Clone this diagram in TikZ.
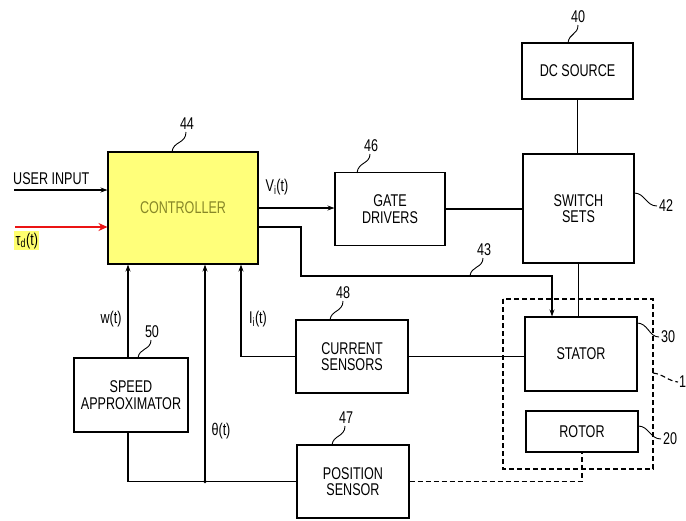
\documentclass[tikz,border=0pt]{standalone}
\usepackage{fontspec}
\setmainfont[FakeStretch=0.74]{Liberation Sans}
\usetikzlibrary{arrows.meta}
\definecolor{ctrlfill}{RGB}{255,255,122}
\definecolor{ctrltext}{RGB}{135,135,40}
\definecolor{hilite}{RGB}{255,255,110}
\definecolor{redarrow}{RGB}{235,20,20}
\begin{document}
\begin{tikzpicture}[x=1pt,y=-1pt,
  every node/.style={font=\fontsize{17}{17}\selectfont, inner sep=0pt},
  blk/.style={draw, line width=1.1pt, align=center, font=\fontsize{17}{16.5}\selectfont},
  conn/.style={line width=1.1pt},
  arr/.style={line width=1.1pt, -{Stealth[length=7pt,width=5pt]}},
  dsh/.style={line width=1.1pt, dash pattern=on 5pt off 3pt},
  lead/.style={line width=0.9pt},
  num/.style={font=\fontsize{17}{17}\selectfont}]
\useasboundingbox (0,0) rectangle (686,520);

% blocks
\node[blk, fill=ctrlfill, minimum width=150pt, minimum height=112pt, text=ctrltext] (ctrl) at (183,208) {CONTROLLER};
\node[blk, minimum width=110pt, minimum height=73pt] (gate) at (390,209) {GATE\\DRIVERS};
\node[blk, minimum width=111pt, minimum height=109pt] (sw) at (578.5,208.5) {SWITCH\\SETS};
\node[blk, minimum width=111pt, minimum height=56pt] (dc) at (577.5,71) {DC SOURCE};
\node[blk, minimum width=112pt, minimum height=73pt] (cur) at (352,356.5) {CURRENT\\SENSORS};
\node[blk, minimum width=112pt, minimum height=74pt] (stator) at (581,354) {STATOR};
\node[blk, minimum width=112pt, minimum height=41pt] (rotor) at (582,431.5) {ROTOR};
\node[blk, minimum width=112pt, minimum height=73pt] (pos) at (353,481.5) {POSITION\\SENSOR};
\node[blk, minimum width=114pt, minimum height=74pt] (speed) at (131,395) {SPEED\\APPROXIMATOR};

% motor dashed enclosure
\draw[dsh] (503,299) rectangle (653,469);

% inputs
\coordinate (ui) at (14,190);
\coordinate (td) at (15,227);
\draw[arr] (ui) -- (ui -| ctrl.west);
\draw[line width=2.8pt, redarrow, -{Stealth[length=9pt,width=8pt]}] (td) -- (td -| ctrl.west);
\node[anchor=west] (uilab) at (13,179) {USER INPUT};
\node[fill=hilite, inner sep=1.5pt, anchor=north west] (tdlab) at (14,231) {τ\textsubscript{d}(t)};

% controller to gate drivers
\draw[arr] (ctrl.east) -- (ctrl.east -| gate.west);
\node (vilab) at (277,187) {V\textsubscript{i}(t)};
\draw[conn] (gate.east) -- (gate.east -| sw.west);
\draw[conn] (dc.south) -- (dc.south |- sw.north);
\draw[conn] (sw.south) -- (sw.south |- stator.north);

% line 43
\coordinate (k1) at (258,227);
\coordinate (k2) at (301,227);
\coordinate (k3) at (301,276);
\coordinate (k4) at (552,276);
\draw[arr] (k1) -- (k2) -- (k3) -- (k4) -- (k4 |- stator.north);

% current sensors
\draw[conn] (cur.east) -- (cur.east -| stator.west);
\coordinate (xI) at (241,356.5);
\draw[arr] (cur.west) -- (xI) -- (xI |- ctrl.south);
\node (iilab) at (258,319) {I\textsubscript{i}(t)};

% speed approximator
\coordinate (xw) at (128,358);
\draw[arr] (xw) -- (xw |- ctrl.south);
\node (wlab) at (111,319) {w(t)};

% position sensor feedback
\coordinate (b1) at (128,432);
\coordinate (b2) at (128,481.5);
\coordinate (dot) at (205,481.5);
\draw[conn] (b1) -- (b2) -- (pos.west);
\draw[arr] (dot) -- (dot |- ctrl.south);
\fill (dot) circle (1.8pt);
\node (thlab) at (221,431) {θ(t)};
\draw[dsh] (pos.east) -| (rotor.south);

% reference numerals
\node[num] (n44) at (187,124) {44};
\draw[lead] (172,152) .. controls (173,141) and (186,144) .. (186,132);
\node[num] (n46) at (371,146) {46};
\draw[lead] (357,173) .. controls (358,162) and (370,164) .. (370,154);
\node[num] (n40) at (578,17) {40};
\draw[lead] (568,43) .. controls (569,33) and (578,35) .. (578,25);
\node[num] (n43) at (484,250) {43};
\draw[lead] (470,276) .. controls (471,266) and (483,268) .. (483,258);
\node[num] (n48) at (343,293) {48};
\draw[lead] (330,320) .. controls (331,310) and (343,312) .. (343,301);
\node[num] (n50) at (152,332) {50};
\draw[lead] (138,358) .. controls (139,348) and (151,350) .. (151,340);
\node[num] (n47) at (346,418) {47};
\draw[lead] (332,445) .. controls (333,435) and (345,437) .. (345,426);
\node[num] (n42) at (666,206) {42};
\draw[lead] (634,193) .. controls (645,193) and (646,206) .. (657,206);
\node[num] (n30) at (668,337) {30};
\draw[lead] (637,323) .. controls (648,323) and (649,337) .. (659,337);
\node[num] (n20) at (670,439) {20};
\draw[lead] (638,426) .. controls (649,426) and (650,439) .. (661,439);
\node[num, anchor=west] (n1) at (679,382) {1};
\draw[lead, dsh] (653,373) .. controls (663,374) and (668,381) .. (678,382);
\end{tikzpicture}
\end{document}
